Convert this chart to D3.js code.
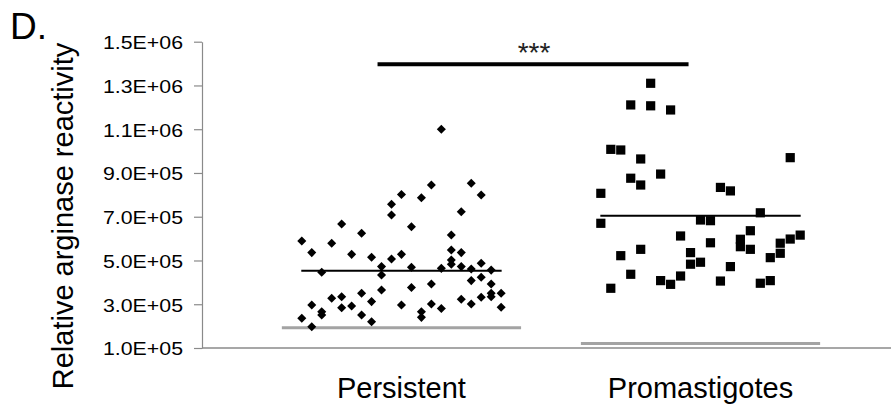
<!DOCTYPE html>
<html>
<head>
<meta charset="utf-8">
<script src="https://cdn.jsdelivr.net/npm/d3@7"></script>
<style>
  html, body { margin: 0; padding: 0; background: #fff; }
  svg { display: block; font-family: "Liberation Sans", Arial, sans-serif; }
</style>
</head>
<body>
<svg id="chart" width="891" height="411"></svg>
<script>
// ---------------- data ----------------
const categories = ["Persistent", "Promastigotes"];
const yTickValues = [1e5, 3e5, 5e5, 7e5, 9e5, 1.1e6, 1.3e6, 1.5e6];
const yTickLabels = ["1.0E+05", "3.0E+05", "5.0E+05", "7.0E+05", "9.0E+05", "1.1E+06", "1.3E+06", "1.5E+06"];

// jitter slot (-10..10) for each point, and its value
const persistentSlot = [
  -10,-10, -9,-9,-9, -8,-8,-8, -7,-7, -6,-6,-6, -5,-5, -4,-4,-4, -3,-3,-3, -2,-2,-2,
  -1,-1,-1, 0,0,0, 1,1,1, 2,2,2, 3,3,3, 4,4,4, 5,5,5,5, 6,6,6,6, 7,7,7,7, 8,8,8,8,
  9,9,9,9, 10,10
];
const persistentValues = [
  5.89e5,2.36e5, 5.36e5,2.97e5,1.97e5, 4.46e5,2.66e5,2.51e5, 5.79e5,3.27e5, 6.67e5,3.34e5,2.84e5,
  5.28e5,2.92e5, 6.24e5,3.50e5,2.51e5, 5.15e5,3.12e5,2.20e5, 4.72e5,4.34e5,3.65e5,
  7.57e5,7.08e5,5.07e5, 8.02e5,5.28e5,2.97e5, 6.54e5,4.69e5,3.77e5, 7.87e5,2.66e5,2.40e5,
  8.45e5,3.93e5,3.01e5, 1.10e6,4.64e5,2.81e5, 6.16e5,5.48e5,5.02e5,4.83e5,
  7.23e5,5.36e5,4.72e5,3.23e5, 8.53e5,4.61e5,4.08e5,3.01e5, 7.99e5,4.87e5,4.23e5,3.32e5,
  4.56e5,3.93e5,3.50e5,3.34e5, 3.50e5,2.86e5
];

const promastigoteSlot = [
  -10,-10, -9,-9, -8,-8, -7,-7,-7, -6,-6,-6, -5,-5, -4,-4, -3,-3, -2,-2, -1,-1,
  0,0, 1,1, 2,2, 3,3, 4,4, 5,5, 6,6, 7,7, 8,8, 9,9, 10
];
const promastigoteValues = [
  8.07e5,6.70e5, 1.008e6,3.73e5, 1.005e6,5.22e5, 1.211e6,8.76e5,4.37e5, 9.64e5,8.45e5,5.51e5,
  1.310e6,1.207e6, 8.95e5,4.08e5, 1.188e6,3.91e5, 6.12e5,4.29e5, 5.36e5,4.83e5,
  6.85e5,4.92e5, 6.82e5,5.81e5, 8.34e5,4.06e5, 8.18e5,4.72e5, 5.97e5,5.63e5,
  6.36e5,5.51e5, 7.18e5,3.96e5, 5.13e5,4.08e5, 5.79e5,5.33e5, 9.70e5,5.98e5, 6.16e5
];

const meanValues = [4.53e5, 7.05e5];
const backgroundValues = [1.93e5, 1.20e5];
const significance = { from: 0.92, to: 1.96, value: 1.397e6, label: "***" };
const yAxisTitle = "Relative arginase reactivity";
const panelLabel = "D.";

// ---------------- layout ----------------
const svg = d3.select("#chart");
const plotLeft = 202, plotRight = 891, plotTop = 41.7, plotBottom = 348;
const slotStep = 1 / 30;

const x = d3.scaleLinear().domain([0.333, 2.637]).range([plotLeft, plotRight]);
const y = d3.scaleLinear().domain([1e5, 1.5e6]).range([plotBottom, plotTop]);

// y axis
const yAxis = d3.axisLeft(y)
  .tickValues(yTickValues)
  .tickFormat((d, i) => yTickLabels[i])
  .tickSize(8)
  .tickSizeOuter(0)
  .tickPadding(11);
const gy = svg.append("g").attr("transform", `translate(${plotLeft},0)`).call(yAxis);
gy.select(".domain").attr("stroke", "#8a8a8a").attr("stroke-width", 1.2);
gy.selectAll(".tick line").attr("stroke", "#8a8a8a").attr("stroke-width", 1.2);
gy.selectAll(".tick text")
  .attr("fill", "#000")
  .style("font-size", "19px")
  .attr("textLength", 80)
  .attr("lengthAdjust", "spacingAndGlyphs")
  .attr("dy", "0.36em");

// x axis line
svg.append("line")
  .attr("x1", plotLeft).attr("x2", plotRight)
  .attr("y1", y(1e5)).attr("y2", y(1e5))
  .attr("stroke", "#8a8a8a").attr("stroke-width", 1.4);

// category labels
svg.selectAll("text.cat").data(categories).enter().append("text")
  .attr("class", "cat")
  .attr("x", (d, i) => x(i + 1))
  .attr("y", 397.5)
  .attr("text-anchor", "middle")
  .style("font-size", "29px")
  .attr("fill", "#000")
  .text(d => d);

// y axis title
svg.append("text")
  .attr("transform", `translate(73,216) rotate(-90)`)
  .attr("text-anchor", "middle")
  .style("font-size", "29px")
  .attr("fill", "#000")
  .text(yAxisTitle);

// panel label
svg.append("text")
  .attr("x", 10).attr("y", 38.5)
  .style("font-size", "37px")
  .attr("fill", "#000")
  .text(panelLabel);

// background (grey) lines
svg.selectAll("line.bg").data(backgroundValues).enter().append("line")
  .attr("class", "bg")
  .attr("x1", (d, i) => x(i + 1 - 0.4))
  .attr("x2", (d, i) => x(i + 1 + 0.4))
  .attr("y1", d => y(d)).attr("y2", d => y(d))
  .attr("stroke", "#a3a3a3").attr("stroke-width", 3);

// points
const pPts = persistentValues.map((v, i) => ({ x: 1 + persistentSlot[i] * slotStep, v }));
const mPts = promastigoteValues.map((v, i) => ({ x: 2 + promastigoteSlot[i] * slotStep, v }));

const diamond = d3.symbol().type(d3.symbolDiamond2).size(52);
svg.selectAll("path.pers").data(pPts).enter().append("path")
  .attr("class", "pers")
  .attr("d", diamond)
  .attr("transform", d => `translate(${x(d.x)},${y(d.v)})`)
  .attr("fill", "#000");

const sq = 9.2;
svg.selectAll("rect.prom").data(mPts).enter().append("rect")
  .attr("class", "prom")
  .attr("x", d => x(d.x) - sq / 2)
  .attr("y", d => y(d.v) - sq / 2)
  .attr("width", sq).attr("height", sq)
  .attr("fill", "#000");

// mean lines
svg.selectAll("line.mean").data(meanValues).enter().append("line")
  .attr("class", "mean")
  .attr("x1", (d, i) => x(i + 1 - 0.335))
  .attr("x2", (d, i) => x(i + 1 + 0.335))
  .attr("y1", d => y(d)).attr("y2", d => y(d))
  .attr("stroke", "#000").attr("stroke-width", 2);

// significance bar
svg.append("line")
  .attr("x1", x(significance.from)).attr("x2", x(significance.to))
  .attr("y1", y(significance.value)).attr("y2", y(significance.value))
  .attr("stroke", "#000").attr("stroke-width", 4);
svg.append("text")
  .attr("x", (x(significance.from) + x(significance.to)) / 2 + 1)
  .attr("y", y(significance.value) - 2)
  .attr("text-anchor", "middle")
  .style("font-size", "28px")
  .attr("fill", "#222")
  .text(significance.label);
</script>
</body>
</html>
